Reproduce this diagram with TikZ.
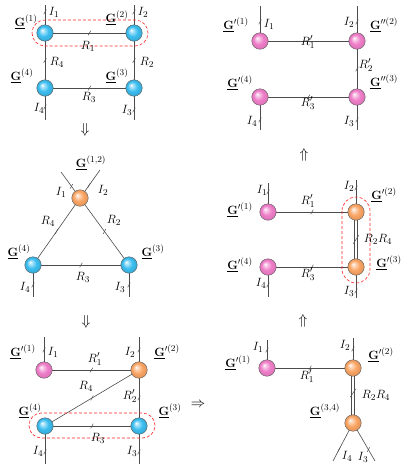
\documentclass[tikz,border=0pt]{standalone}
\usetikzlibrary{calc}
\definecolor{blueC}{RGB}{60,190,240}
\definecolor{orC}{RGB}{250,165,100}
\definecolor{pkC}{RGB}{238,125,200}
\pgfdeclareradialshading{blueshade}{\pgfpoint{-9bp}{9bp}}{color(0bp)=(white); color(4bp)=(blueC!35!white); color(15bp)=(blueC); color(26bp)=(blueC!88!black); color(30bp)=(blueC!78!black)}
\pgfdeclareradialshading{orshade}{\pgfpoint{-9bp}{9bp}}{color(0bp)=(white); color(4bp)=(orC!35!white); color(15bp)=(orC); color(26bp)=(orC!90!black); color(30bp)=(orC!80!black)}
\pgfdeclareradialshading{pkshade}{\pgfpoint{-9bp}{9bp}}{color(0bp)=(white); color(4bp)=(pkC!35!white); color(15bp)=(pkC); color(26bp)=(pkC!92!black); color(30bp)=(pkC!84!black)}
\newcommand\Gb{\underline{\mathbf{G}}}
\newcommand\tk[1]{\draw[tickline] #1 ++(-1.3,2.3) -- ++(2.6,-4.6);}
\tikzset{
  edge/.style={draw=black!70, line width=0.6pt},
  ballbase/.style={circle, minimum size=16.5pt, inner sep=0pt, draw=black!65, line width=0.4pt},
  bnode/.style={ballbase, shading=blueshade},
  onode/.style={ballbase, shading=orshade},
  pnode/.style={ballbase, shading=pkshade},
  lbl/.style={font=\fontsize{12.5}{14}\selectfont, inner sep=0pt},
  arr/.style={font=\fontsize{15}{16}\selectfont, inner sep=0pt},
  grp/.style={draw=red!85, line width=0.6pt, dash pattern=on 3pt off 2pt},
  tickline/.style={draw=black!70, line width=0.5pt}
}
\begin{document}
\begin{tikzpicture}[x=1pt,y=-1pt]
\useasboundingbox (0,0) rectangle (414,464);
% ---------------- Panel 1 ----------------
\coordinate (a1u) at (45,5); \coordinate (a2u) at (134,5);
\coordinate (a4d) at (45,120); \coordinate (a3d) at (134,120);
\path (45,33) coordinate (p1) (134,33) coordinate (p2) (45,88) coordinate (p4) (134,88) coordinate (p3);
\draw[edge] (p1) -- (a1u); \draw[edge] (p2) -- (a2u);
\draw[edge] (p4) -- (a4d); \draw[edge] (p3) -- (a3d);
\draw[edge] (p1) -- (p2); \draw[edge] (p2) -- (p3);
\draw[edge] (p3) -- (p4); \draw[edge] (p4) -- (p1);
\node[bnode] (a1) at (p1) {}; \node[bnode] (a2) at (p2) {};
\node[bnode] (a4) at (p4) {}; \node[bnode] (a3) at (p3) {};
\draw[grp, rounded corners=13pt] (32,20) rectangle (148,46);
\tk{(45,12)} \tk{(134,12)} \tk{(45,107)} \tk{(134,110)}
\tk{($(a1)!0.5!(a2)$)} \tk{($(a2)!0.5!(a3)$)} \tk{($(a3)!0.5!(a4)$)} \tk{($(a4)!0.5!(a1)$)}
\node[lbl] (la1) at (26,22) {$\Gb^{(1)}$};
\node[lbl] (li1a) at (54,12) {$I_1$};
\node[lbl] (la2) at (117,18) {$\Gb^{(2)}$};
\node[lbl] (li2a) at (143,12) {$I_2$};
\node[lbl] (lr1a) at (88,46) {$R_1$};
\node[lbl] (lr4a) at (57,62) {$R_4$};
\node[lbl] (lr2a) at (147,62) {$R_2$};
\node[lbl] (la4) at (22,76) {$\Gb^{(4)}$};
\node[lbl] (la3) at (117,76) {$\Gb^{(3)}$};
\node[lbl] (lr3a) at (89,97) {$R_3$};
\node[lbl] (li4a) at (39,108) {$I_4$};
\node[lbl] (li3a) at (127,110) {$I_3$};
\node[arr] (ar1) at (85,130) {$\Downarrow$};
% ---------------- Panel 2 ----------------
\coordinate (b1e) at (61,172); \coordinate (b2e) at (100,170);
\coordinate (b4d) at (33,297); \coordinate (b3d) at (129,297);
\path (80,198) coordinate (q12) (33,265) coordinate (q4) (129,265) coordinate (q3);
\draw[edge] (q12) -- (b1e); \draw[edge] (q12) -- (b2e);
\draw[edge] (q4) -- (b4d); \draw[edge] (q3) -- (b3d);
\draw[edge] (q12) -- (q4); \draw[edge] (q12) -- (q3); \draw[edge] (q4) -- (q3);
\node[onode] (b12) at (q12) {};
\node[bnode] (b4) at (q4) {}; \node[bnode] (b3) at (q3) {};
\tk{($(b12)!0.45!(b1e)$)} \tk{($(b12)!0.45!(b2e)$)} \tk{(33,285)} \tk{(129,285)}
\tk{($(b12)!0.5!(b4)$)} \tk{($(b12)!0.5!(b3)$)} \tk{($(b4)!0.5!(b3)$)}
\node[lbl] (lb12) at (91,163) {$\Gb^{(1,2)}$};
\node[lbl] (li1b) at (61,192) {$I_1$};
\node[lbl] (li2b) at (103,190) {$I_2$};
\node[lbl] (lr4b) at (48,221) {$R_4$};
\node[lbl] (lr2b) at (114,220) {$R_2$};
\node[lbl] (lb4) at (19,252) {$\Gb^{(4)}$};
\node[lbl] (lb3) at (153,252) {$\Gb^{(3)}$};
\node[lbl] (lr3b) at (83,277) {$R_3$};
\node[lbl] (li4b) at (25,287) {$I_4$};
\node[lbl] (li3b) at (120,287) {$I_3$};
\node[arr] (ar2) at (86,322) {$\Downarrow$};
% ---------------- Panel 3 ----------------
\coordinate (c1u) at (44,337); \coordinate (c2u) at (139,337);
\coordinate (c4d) at (45,464); \coordinate (c3d) at (139,464);
\path (44,370) coordinate (r1) (139,370) coordinate (r2) (45,426) coordinate (r4) (139,426) coordinate (r3);
\draw[edge] (r1) -- (c1u); \draw[edge] (r2) -- (c2u);
\draw[edge] (r4) -- (c4d); \draw[edge] (r3) -- (c3d);
\draw[edge] (r1) -- (r2); \draw[edge] (r2) -- (r3); \draw[edge] (r2) -- (r4); \draw[edge] (r4) -- (r3);
\node[pnode] (c1) at (r1) {}; \node[onode] (c2) at (r2) {};
\node[bnode] (c4) at (r4) {}; \node[bnode] (c3) at (r3) {};
\draw[grp, rounded corners=12.5pt] (29,413) rectangle (155,438);
\tk{(44,350)} \tk{(139,350)} \tk{(45,452)} \tk{(139,452)}
\tk{($(c1)!0.5!(c2)$)} \tk{($(c2)!0.5!(c3)$)} \tk{($(c2)!0.5!(c4)$)} \tk{($(c4)!0.5!(c3)$)}
\node[lbl] (lc1) at (23,352) {$\Gb'^{(1)}$};
\node[lbl] (li1c) at (53,352) {$I_1$};
\node[lbl] (lr1c) at (95,359) {$R_1'$};
\node[lbl] (li2c) at (130,352) {$I_2$};
\node[lbl] (lc2) at (167,352) {$\Gb'^{(2)}$};
\node[lbl] (lr4c) at (86,386) {$R_4$};
\node[lbl] (lr2c) at (130,396) {$R_2'$};
\node[lbl] (lc4) at (30,411) {$\Gb^{(4)}$};
\node[lbl] (lc3) at (170,411) {$\Gb^{(3)}$};
\node[lbl] (lr3c) at (98,438) {$R_3$};
\node[lbl] (li4c) at (38,451) {$I_4$};
\node[lbl] (li3c) at (132,451) {$I_3$};
\node[arr] (ar3) at (198,405) {$\Rightarrow$};
% ---------------- Panel 4 ----------------
\coordinate (d1u) at (260,6); \coordinate (d2u) at (357,6);
\coordinate (d4d) at (260,130); \coordinate (d3d) at (357,130);
\path (260,41) coordinate (s1) (357,41) coordinate (s2) (260,97) coordinate (s4) (357,97) coordinate (s3);
\draw[edge] (s1) -- (d1u); \draw[edge] (s2) -- (d2u);
\draw[edge] (s4) -- (d4d); \draw[edge] (s3) -- (d3d);
\draw[edge] (s1) -- (s2); \draw[edge] (s2) -- (s3); \draw[edge] (s4) -- (s3);
\node[pnode] (d1) at (s1) {}; \node[pnode] (d2) at (s2) {};
\node[pnode] (d4) at (s4) {}; \node[pnode] (d3) at (s3) {};
\tk{(260,22)} \tk{(357,22)} \tk{(260,120)} \tk{(357,120)}
\tk{($(d1)!0.5!(d2)$)} \tk{($(d2)!0.5!(d3)$)} \tk{($(d4)!0.5!(d3)$)}
\node[lbl] (ld1) at (236,25) {$\Gb'^{(1)}$};
\node[lbl] (li1d) at (269,24) {$I_1$};
\node[lbl] (lr1d) at (308,42) {$R_1'$};
\node[lbl] (li2d) at (349,22) {$I_2$};
\node[lbl] (ld2) at (384,25) {$\Gb''^{(2)}$};
\node[lbl] (lr2d) at (366,65) {$R_2'$};
\node[lbl] (ld4) at (240,83) {$\Gb'^{(4)}$};
\node[lbl] (ld3) at (384,82) {$\Gb''^{(3)}$};
\node[lbl] (lr3d) at (308,103) {$R_3'$};
\node[lbl] (li4d) at (252,121) {$I_4$};
\node[lbl] (li3d) at (349,121) {$I_3$};
\node[arr] (ar4) at (304,155) {$\Uparrow$};
% ---------------- Panel 5 ----------------
\coordinate (e1u) at (268,183); \coordinate (e2u) at (356,180);
\coordinate (e4d) at (268,297); \coordinate (e3d) at (356,298);
\path (268,212) coordinate (t1) (356,212) coordinate (t2) (268,267) coordinate (t4) (356,267) coordinate (t3);
\draw[edge] (t1) -- (e1u); \draw[edge] (t2) -- (e2u);
\draw[edge] (t4) -- (e4d); \draw[edge] (t3) -- (e3d);
\draw[edge] (t1) -- (t2); \draw[edge] (t4) -- (t3);
\draw[edge] ([xshift=-1.3pt]t2) -- ([xshift=-1.3pt]t3);
\draw[edge] ([xshift=1.3pt]t2) -- ([xshift=1.3pt]t3);
\node[pnode] (e1) at (t1) {}; \node[onode] (e2) at (t2) {};
\node[pnode] (e4) at (t4) {}; \node[onode] (e3) at (t3) {};
\draw[grp, rounded corners=14pt] (342,197) rectangle (370,283);
\tk{(268,192)} \tk{(356,188)} \tk{(268,285)} \tk{(356,291)}
\tk{($(e1)!0.5!(e2)$)} \tk{($(e4)!0.5!(e3)$)}
\draw[tickline] ($(e2)!0.5!(e3)$) ++(-2.8,4.2) -- ++(5.6,-8.4);
\node[lbl] (le1) at (240,210) {$\Gb'^{(1)}$};
\node[lbl] (li1e) at (262,190) {$I_1$};
\node[lbl] (lr1e) at (308,201) {$R_1'$};
\node[lbl] (li2e) at (349,186) {$I_2$};
\node[lbl] (le2) at (384,195) {$\Gb'^{(2)}$};
\node[lbl] (lr24e) at (378,239) {$R_2R_4$};
\node[lbl] (le4) at (240,265) {$\Gb'^{(4)}$};
\node[lbl] (lr3e) at (308,274) {$R_3'$};
\node[lbl] (le3) at (389,263) {$\Gb'^{(3)}$};
\node[lbl] (li4e) at (261,283) {$I_4$};
\node[lbl] (li3e) at (349,291) {$I_3$};
\node[arr] (ar5) at (303,321) {$\Uparrow$};
% ---------------- Panel 6 ----------------
\coordinate (f1u) at (267,340); \coordinate (f2u) at (353,338);
\coordinate (f4e) at (333,461); \coordinate (f3e) at (375,461);
\path (267,368) coordinate (u1) (353,368) coordinate (u2) (353,423) coordinate (u34);
\draw[edge] (u1) -- (f1u); \draw[edge] (u2) -- (f2u);
\draw[edge] (u34) -- (f4e); \draw[edge] (u34) -- (f3e);
\draw[edge] (u1) -- (u2);
\draw[edge] ([xshift=-1.3pt]u2) -- ([xshift=-1.3pt]u34);
\draw[edge] ([xshift=1.3pt]u2) -- ([xshift=1.3pt]u34);
\node[pnode] (f1) at (u1) {}; \node[onode] (f2) at (u2) {}; \node[onode] (f34) at (u34) {};
\tk{(267,350)} \tk{(353,349)} \tk{($(f34)!0.7!(f4e)$)} \tk{($(f34)!0.7!(f3e)$)}
\tk{($(f1)!0.5!(f2)$)}
\draw[tickline] (353,393) ++(-2.8,4.2) -- ++(5.6,-8.4);
\node[lbl] (lf1) at (238,363) {$\Gb'^{(1)}$};
\node[lbl] (li1f) at (258,347) {$I_1$};
\node[lbl] (lr1f) at (307,376) {$R_1'$};
\node[lbl] (li2f) at (345,345) {$I_2$};
\node[lbl] (lf2) at (381,355) {$\Gb'^{(2)}$};
\node[lbl] (lr24f) at (376,395) {$R_2R_4$};
\node[lbl] (lf34) at (325,411) {$\Gb^{(3,4)}$};
\node[lbl] (li4f) at (347,456) {$I_4$};
\node[lbl] (li3f) at (363,457) {$I_3$};
\end{tikzpicture}
\end{document}
